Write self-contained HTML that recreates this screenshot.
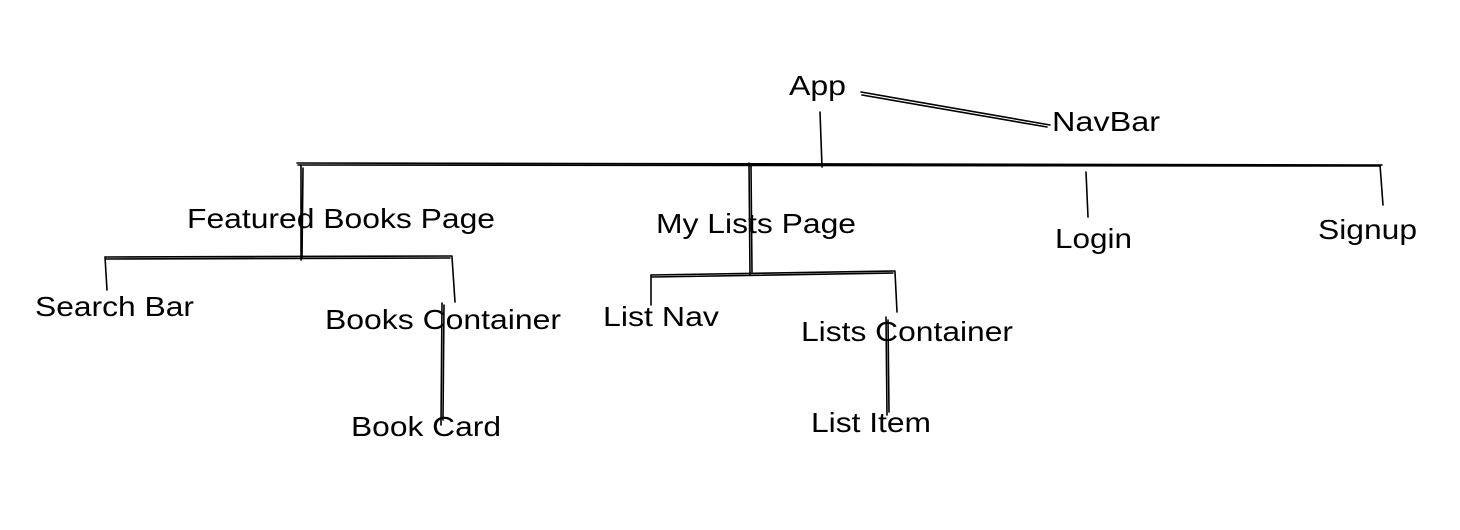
<!DOCTYPE html>
<html><head><meta charset="utf-8"><style>
html,body{margin:0;padding:0;background:#fff;}
svg{display:block;}
text{font-family:"Liberation Sans",Arial,sans-serif;font-size:28px;fill:#000;}
</style></head><body>
<svg width="1460" height="530" viewBox="0 0 1460 530" xmlns="http://www.w3.org/2000/svg">
<rect width="1460" height="530" fill="#fff"/>
<g stroke="#000" stroke-width="1.6" fill="none" stroke-linecap="round">
<path d="M861 92 L1050 125 M862 95 L1047 127"/>
<path d="M820 112 L822 167"/>
<path d="M297 163 L1382 165 M298 165 L1380 166"/>
<path d="M301 165 L301 260 M303 168 L302 258"/>
<path d="M749 163 L750 275 M751 166 L752 272"/>
<path d="M1086 172 L1088 217"/>
<path d="M1380 165 L1383 205"/>
<path d="M105 257 L452 256 M106 259 L450 258"/>
<path d="M105 257 L107 290"/>
<path d="M452 257 L455 302"/>
<path d="M442 303 L441 425 M444 305 L443 420"/>
<path d="M651 275 L895 271 M652 277 L893 273"/>
<path d="M651 275 L651 305"/>
<path d="M895 272 L897 312"/>
<path d="M886 317 L887 415 M888 320 L889 412"/>
</g>
<text x="789" y="95" textLength="57" lengthAdjust="spacingAndGlyphs">App</text>
<text x="1052" y="131" textLength="108" lengthAdjust="spacingAndGlyphs">NavBar</text>
<text x="187" y="228" textLength="308" lengthAdjust="spacingAndGlyphs">Featured Books Page</text>
<text x="656" y="233" textLength="200" lengthAdjust="spacingAndGlyphs">My Lists Page</text>
<text x="1055" y="248" textLength="77" lengthAdjust="spacingAndGlyphs">Login</text>
<text x="1318" y="239" textLength="99" lengthAdjust="spacingAndGlyphs">Signup</text>
<text x="35" y="316" textLength="159" lengthAdjust="spacingAndGlyphs">Search Bar</text>
<text x="325" y="329" textLength="236" lengthAdjust="spacingAndGlyphs">Books Container</text>
<text x="603" y="326" textLength="116" lengthAdjust="spacingAndGlyphs">List Nav</text>
<text x="801" y="341" textLength="212" lengthAdjust="spacingAndGlyphs">Lists Container</text>
<text x="351" y="436" textLength="150" lengthAdjust="spacingAndGlyphs">Book Card</text>
<text x="811" y="432" textLength="120" lengthAdjust="spacingAndGlyphs">List Item</text>
</svg>
</body></html>
